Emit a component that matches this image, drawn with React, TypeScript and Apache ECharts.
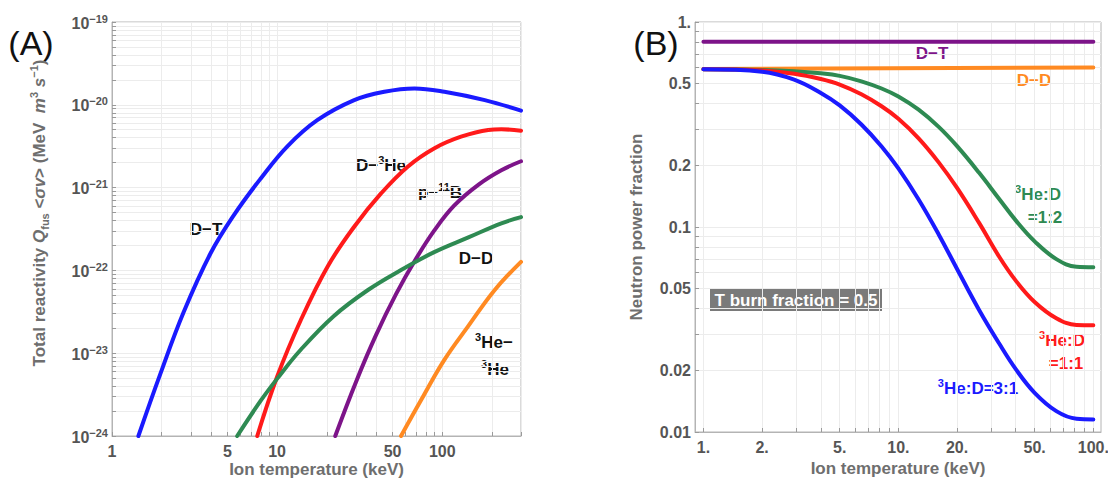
import React, { useEffect, useRef } from 'react';
import * as echarts from 'echarts';

const FONT = '"Liberation Sans", Arial, Helvetica, sans-serif';

// ---------- Panel (A): total reactivity vs ion temperature ----------
const dtTemp = [1.445, 1.96, 2.71, 3.94, 5.46, 7.94, 11.5, 17.5, 29.3, 44.6, 67.9, 103, 181, 300];
const dtReact = [1e-24, 5.58e-24, 3.1e-23, 1.587e-22, 4.62e-22, 1.28e-21, 3.13e-21, 6.52e-21, 1.14e-20, 1.439e-20, 1.578e-20, 1.439e-20, 1.14e-20, 8.49e-21];

const dhe3Temp = [7.58, 10.0, 13.9, 20.2, 29.3, 42.6, 61.8, 89.8, 130, 190, 228, 300];
const dhe3React = [1e-24, 5.2e-24, 2.5e-23, 1.11e-22, 3.37e-22, 8.5e-22, 1.79e-21, 2.99e-21, 4.12e-21, 4.97e-21, 5.06e-21, 4.87e-21];

const pbTemp = [22.5, 30.0, 39.7, 52.5, 69.5, 89.4, 118, 166, 228, 300];
const pbReact = [1e-24, 4.47e-24, 1.65e-23, 5.16e-23, 1.39e-22, 3.02e-22, 6.05e-22, 1.087e-21, 1.62e-21, 2.08e-21];

const ddTemp = [5.73, 7.94, 10.07, 13.9, 22.0, 35.5, 56.3, 89.4, 144, 228, 300];
const ddReact = [1e-24, 2.65e-24, 5.0e-24, 1.1e-23, 2.8e-23, 5.8e-23, 1.01e-22, 1.66e-22, 2.5e-22, 3.7e-22, 4.4e-22];

const he3he3Temp = [56.3, 74.5, 103, 143, 208, 300];
const he3he3React = [1e-24, 2.72e-24, 8.3e-24, 2.09e-23, 5.8e-23, 1.27e-22];

const aTempLabels = [1, 5, 10, 50, 100];
const aTempMin = 1;
const aTempMax = 300;
const aReactLabels = [1e-24, 1e-23, 1e-22, 1e-21, 1e-20, 1e-19];

// ---------- Panel (B): neutron power fraction ----------
const bTemp = [1, 2, 2.92, 4, 5, 6.46, 8.2, 10, 12.7, 16.1, 20, 25.9, 32.9, 40.1, 50, 64.6, 82, 100];
const he3d31 = [0.5877, 0.5725, 0.5237, 0.4508, 0.3919, 0.3164, 0.2471, 0.193, 0.1362, 0.092, 0.0624, 0.0395, 0.027, 0.0202, 0.01553, 0.01264, 0.0116, 0.01152];
const he3d11 = [0.5877, 0.58, 0.5597, 0.5272, 0.4954, 0.4441, 0.3882, 0.3373, 0.2707, 0.2067, 0.155, 0.105, 0.0716, 0.0546, 0.0431, 0.0359, 0.0333, 0.0332];
const he3d12 = [0.5877, 0.5838, 0.5755, 0.5619, 0.546, 0.5137, 0.4737, 0.4331, 0.3734, 0.3078, 0.2479, 0.1842, 0.1369, 0.1074, 0.0851, 0.0697, 0.064, 0.0637];
const flatTemp = [1, 100];
const dtFrac = [0.8, 0.8];
const ddFrac = [0.59, 0.6];

const bTempLabels = [1, 2, 5, 10, 20, 50, 100];
const bFracLabels = [0.01, 0.02, 0.05, 0.1, 0.2, 0.5, 1];

// log grid helper (gridline positions: mantissa 1..9 in each decade)
const logGrid = (lo: number, hi: number, maxVal: number) => {
  const out: number[] = [];
  for (let e = lo; e <= hi; e++) {
    for (let m = 1; m <= 9; m++) {
      const v = parseFloat((m * Math.pow(10, e)).toPrecision(6));
      if (v <= maxVal * 1.0000001) out.push(v);
    }
  }
  return out;
};

const zip = (xs: number[], ys: number[]) => xs.map((x, i) => [x, ys[i]]);

const C = {
  blue: '#1a1aff',
  red: '#ff1a1a',
  purple: '#7d1489',
  green: '#2e8a52',
  orange: '#ff8a22',
};

const TICK_COLOR = '#555555';
const TITLE_COLOR = '#6e6e6e';
const FRAME = '#b4b4b4';
const GRID = '#ececec';

const plainLabel = (x: number, y: number, color: string, text: string) => ({
  type: 'text',
  x,
  y,
  style: {
    text,
    align: 'center',
    verticalAlign: 'middle',
    fill: color,
    fontFamily: FONT,
    fontSize: 17,
    fontWeight: 'bold',
  },
});

const superLabel = (x: number, y: number, color: string, text: string) => ({
  type: 'text',
  x,
  y,
  style: {
    text,
    align: 'center',
    verticalAlign: 'middle',
    fill: color,
    fontFamily: FONT,
    fontSize: 17,
    fontWeight: 'bold',
    rich: {
      n: { fill: color, fontFamily: FONT, fontSize: 17, fontWeight: 'bold', lineHeight: 20, verticalAlign: 'bottom' },
      s: { fill: color, fontFamily: FONT, fontSize: 11, fontWeight: 'bold', lineHeight: 12, verticalAlign: 'top' },
    },
  },
});

const App: React.FC = () => {
  const ref = useRef<HTMLDivElement>(null);

  useEffect(() => {
    if (!ref.current) return;
    const chart = echarts.init(ref.current, undefined, { renderer: 'svg' });

    const lineSeries = (xi: number, data: number[][], color: string) => ({
      type: 'line',
      xAxisIndex: xi,
      yAxisIndex: xi,
      data,
      showSymbol: false,
      symbol: 'none',
      smooth: 0.4,
      clip: true,
      silent: true,
      lineStyle: { color, width: 4, cap: 'round' },
    });

    const tickLabelStyle = {
      color: TICK_COLOR,
      fontFamily: FONT,
      fontSize: 16,
      fontWeight: 'bold',
    };
    const titleStyle = {
      color: TITLE_COLOR,
      fontFamily: FONT,
      fontSize: 17,
      fontWeight: 'bold',
    };
    const xTitleStyle = { ...titleStyle, lineHeight: 17 };

    const option: any = {
      animation: false,
      backgroundColor: '#ffffff',
      grid: [
        { left: 112, top: 22, width: 409, height: 414, show: true, borderColor: FRAME, borderWidth: 1, containLabel: false, outerBoundsMode: 'none' },
        { left: 695, top: 22, width: 406, height: 410, show: true, borderColor: FRAME, borderWidth: 1, containLabel: false, outerBoundsMode: 'none' },
      ],
      xAxis: [
        {
          type: 'log',
          gridIndex: 0,
          min: aTempMin,
          max: aTempMax,
          axisLine: { show: true, lineStyle: { color: FRAME } },
          axisTick: { show: true, inside: true, length: 4, customValues: logGrid(0, 2, aTempMax), lineStyle: { color: '#9a9a9a' } },
          axisLabel: { ...tickLabelStyle, customValues: aTempLabels, margin: 7, formatter: (v: number) => String(Math.round(v)) },
          splitLine: { show: true, lineStyle: { color: GRID, width: 1 } },
          name: 'Ion temperature (keV)',
          nameLocation: 'middle',
          nameGap: 25,
          nameMoveOverlap: false,
          nameTextStyle: xTitleStyle,
        },
        {
          type: 'log',
          gridIndex: 1,
          min: 0.905,
          max: 109.5,
          axisLine: { show: true, lineStyle: { color: FRAME } },
          axisTick: { show: true, inside: true, length: 4, customValues: logGrid(0, 2, 100), lineStyle: { color: '#9a9a9a' } },
          axisLabel: { ...tickLabelStyle, customValues: bTempLabels, margin: 7, formatter: (v: number) => `${Math.round(v)}.` },
          splitLine: { show: true, lineStyle: { color: GRID, width: 1 } },
          name: 'Ion temperature (keV)',
          nameLocation: 'middle',
          nameGap: 28,
          nameMoveOverlap: false,
          nameTextStyle: xTitleStyle,
        },
      ],
      yAxis: [
        {
          type: 'log',
          gridIndex: 0,
          min: 1e-24,
          max: 1e-19,
          axisLine: { show: true, lineStyle: { color: FRAME } },
          axisTick: { show: true, inside: true, length: 4, customValues: logGrid(-24, -19, 1e-19), lineStyle: { color: '#9a9a9a' } },
          axisLabel: {
            customValues: aReactLabels,
            margin: 4,
            formatter: (v: number) => `{b|10}{s|−${Math.abs(Math.round(Math.log10(v)))}}`,
            rich: {
              b: { ...tickLabelStyle, fontSize: 16, lineHeight: 18, verticalAlign: 'bottom' },
              s: { ...tickLabelStyle, fontSize: 11, lineHeight: 11, verticalAlign: 'top' },
            },
          },
          splitLine: { show: true, lineStyle: { color: GRID, width: 1 } },
          name: '{t|Total reactivity }{i|Q}{sub|fus}{t| <}{i|σv}{t|> (MeV  }{i|m}{sup|3}{i| s}{sup|−1}{t|)}',
          nameLocation: 'middle',
          nameGap: 62,
          nameTextStyle: {
            ...titleStyle,
            padding: [0, 0, 0, 32],
            rich: {
              t: { ...titleStyle, lineHeight: 22, verticalAlign: 'middle' },
              i: { ...titleStyle, fontStyle: 'italic', lineHeight: 22, verticalAlign: 'middle' },
              sub: { ...titleStyle, fontSize: 11, lineHeight: 11, verticalAlign: 'bottom' },
              sup: { ...titleStyle, fontSize: 11, lineHeight: 11, verticalAlign: 'top' },
            },
          },
        },
        {
          type: 'log',
          gridIndex: 1,
          min: 0.01,
          max: 1,
          axisLine: { show: true, lineStyle: { color: FRAME } },
          axisTick: { show: true, inside: true, length: 4, customValues: logGrid(-2, 0, 1), lineStyle: { color: '#9a9a9a' } },
          axisLabel: {
            ...tickLabelStyle,
            customValues: bFracLabels,
            margin: 4,
            formatter: (v: number) => (Math.abs(v - 1) < 1e-9 ? '1.' : String(v)),
          },
          splitLine: { show: true, lineStyle: { color: GRID, width: 1 } },
          name: 'Neutron power fraction',
          nameLocation: 'middle',
          nameGap: 50,
          nameTextStyle: titleStyle,
        },
      ],
      series: [
        lineSeries(0, zip(dtTemp, dtReact), C.blue),
        lineSeries(0, zip(dhe3Temp, dhe3React), C.red),
        lineSeries(0, zip(pbTemp, pbReact), C.purple),
        lineSeries(0, zip(ddTemp, ddReact), C.green),
        lineSeries(0, zip(he3he3Temp, he3he3React), C.orange),
        lineSeries(1, zip(flatTemp, dtFrac), C.purple),
        lineSeries(1, zip(flatTemp, ddFrac), C.orange),
        lineSeries(1, zip(bTemp, he3d12), C.green),
        lineSeries(1, zip(bTemp, he3d11), C.red),
        lineSeries(1, zip(bTemp, he3d31), C.blue),
      ],
      graphic: [
        { type: 'text', x: 31, y: 43, style: { text: '(A)', fill: '#111', fontFamily: FONT, fontSize: 34, align: 'center', verticalAlign: 'middle' } },
        { type: 'text', x: 656, y: 43, style: { text: '(B)', fill: '#111', fontFamily: FONT, fontSize: 34, align: 'center', verticalAlign: 'middle' } },
        // panel A labels
        plainLabel(206, 229, '#111', 'D−T'),
        superLabel(381, 164, '#111', '{n|D−}{s|3}{n|He}'),
        superLabel(440, 191, '#111', '{n|p−}{s|11}{n|B}'),
        plainLabel(476, 258, '#111', 'D−D'),
        superLabel(494, 341, '#111', '{s|3}{n|He−}'),
        superLabel(495, 368, '#111', '{s|3}{n|He}'),
        // panel B labels
        plainLabel(932, 53, C.purple, 'D−T'),
        plainLabel(1034, 80, C.orange, 'D−D'),
        superLabel(1038, 193, C.green, '{s|3}{n|He:D}'),
        plainLabel(1045, 217, C.green, '=1:2'),
        superLabel(1062, 339, C.red, '{s|3}{n|He:D}'),
        plainLabel(1066, 363, C.red, '=1:1'),
        superLabel(978, 387, C.blue, '{s|3}{n|He:D=3:1}'),
        { type: 'rect', shape: { x: 710, y: 288, width: 172, height: 23 }, style: { fill: '#7a7a7a' } },
        { type: 'text', x: 796, y: 300, style: { text: 'T burn fraction = 0.5', fill: '#ffffff', fontFamily: FONT, fontSize: 17, fontWeight: 'bold', align: 'center', verticalAlign: 'middle' } },
      ],
    };

    chart.setOption(option);
    return () => chart.dispose();
  }, []);

  return <div ref={ref} style={{ position: 'absolute', left: 0, top: 0, width: 1108, height: 479 }} />;
};

export default App;
